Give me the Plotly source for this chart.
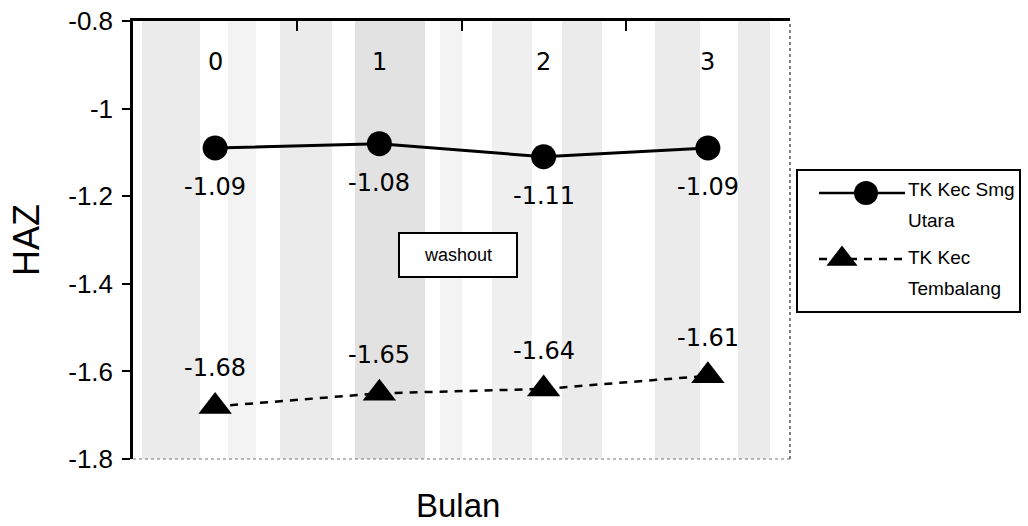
import plotly.graph_objects as go

# ---- data ----
bulan = ["0", "1", "2", "3"]
smg_utara = [-1.09, -1.08, -1.11, -1.09]
tembalang = [-1.68, -1.65, -1.64, -1.61]
y_ticks = [-0.8, -1.0, -1.2, -1.4, -1.6, -1.8]
y_tick_text = ["-0.8", "-1", "-1.2", "-1.4", "-1.6", "-1.8"]
series_names = [["TK Kec Smg", "Utara"], ["TK Kec", "Tembalang"]]

# ---- page geometry (pixels) ----
W, H = 1028, 526
L, T, B = 133, 21, 459          # plot area left / top / bottom
PLOT_R = 790                    # right edge of the data region
AREA_W = W - L
AREA_H = B - T


def px(x):
    return (x - L) / AREA_W


def py(y):
    return (B - y) / AREA_H


label_font = dict(family="DejaVu Sans, Verdana, sans-serif", size=24, color="black")
sans = "Liberation Sans, Arial, sans-serif"

fig = go.Figure()

fig.add_trace(go.Scatter(
    x=bulan, y=smg_utara, mode="lines+markers", name="TK Kec Smg Utara",
    line=dict(color="black", width=3),
    marker=dict(symbol="circle", size=25, color="black"),
    showlegend=False, cliponaxis=False,
))
fig.add_trace(go.Scatter(
    x=bulan, y=tembalang, mode="lines+markers", name="TK Kec Tembalang",
    line=dict(color="black", width=2.5, dash="8px,7px"),
    marker=dict(symbol="triangle-up", size=29, color="black"),
    showlegend=False, cliponaxis=False,
))

annotations = []
# month labels just under the top axis
for b in bulan:
    annotations.append(dict(x=b, y=py(62), xref="x", yref="paper", text=b,
                            showarrow=False, xanchor="center", yanchor="middle",
                            font=dict(family="DejaVu Sans, Verdana, sans-serif",
                                      size=24, color="black")))
# value labels
for b, v in zip(bulan, smg_utara):
    annotations.append(dict(x=b, y=v, xref="x", yref="y", text=f"{v:.2f}",
                            showarrow=False, yshift=-39, font=label_font))
for b, v in zip(bulan, tembalang):
    annotations.append(dict(x=b, y=v, xref="x", yref="y", text=f"{v:.2f}",
                            showarrow=False, yshift=38, font=label_font))

# "washout" box
annotations.append(dict(
    x=px(458), y=py(255), xref="paper", yref="paper", text="washout",
    xanchor="center", yanchor="middle",
    showarrow=False, width=116, height=42, borderpad=0,
    bordercolor="black", borderwidth=2, bgcolor="white",
    font=dict(family=sans, size=18, color="black"),
))

# x axis title
annotations.append(dict(
    x=px(458), y=py(505), xref="paper", yref="paper", text="Bulan",
    xanchor="center", yanchor="middle",
    showarrow=False, font=dict(family=sans, size=33, color="black"),
))

# legend text
leg_lines = [(series_names[0][0], 189), (series_names[0][1], 220),
             (series_names[1][0], 257), (series_names[1][1], 288)]
for txt, yy in leg_lines:
    annotations.append(dict(
        x=px(906), y=py(yy), xref="paper", yref="paper", text=txt,
        showarrow=False, xanchor="left", yanchor="middle",
        font=dict(family=sans, size=19, color="black"),
    ))

shapes = []
# faint vertical shading bands in the plotting region
bands = [(142, 200, "#ebebeb"), (228, 256, "#f3f3f3"), (280, 332, "#ebebeb"),
         (355, 425, "#e2e2e2"), (440, 462, "#f3f3f3"), (492, 532, "#f0f0f0"),
         (562, 602, "#ebebeb"), (655, 700, "#ebebeb"), (738, 770, "#ebebeb")]
for x0, x1, c in bands:
    shapes.append(dict(type="rect", xref="paper", yref="paper",
                       x0=px(x0), x1=px(x1), y0=0, y1=1,
                       fillcolor=c, line=dict(width=0), layer="below"))
# bottom and right edges of the plotting region
shapes.append(dict(type="line", xref="paper", yref="paper", x0=0, x1=px(PLOT_R),
                   y0=0, y1=0, line=dict(color="#777777", width=1, dash="dot")))
shapes.append(dict(type="line", xref="paper", yref="paper", x0=px(PLOT_R), x1=px(PLOT_R),
                   y0=0, y1=1, line=dict(color="#555555", width=1.5, dash="dot")))
# legend frame and line keys
shapes.append(dict(type="rect", xref="paper", yref="paper",
                   x0=px(797), x1=px(1020), y0=py(312), y1=py(170),
                   line=dict(color="black", width=2), fillcolor="white", layer="below"))
shapes.append(dict(type="line", xref="paper", yref="paper",
                   x0=px(819), x1=px(905), y0=py(193), y1=py(193),
                   line=dict(color="black", width=2.5)))
shapes.append(dict(type="line", xref="paper", yref="paper",
                   x0=px(819), x1=px(905), y0=py(259), y1=py(259),
                   line=dict(color="black", width=2.5, dash="8px,7px")))

# legend marker keys on a pixel-scaled helper subplot
fig.add_trace(go.Scatter(x=[866], y=[193], mode="markers", xaxis="x2", yaxis="y2",
                         marker=dict(symbol="circle", size=24, color="black"),
                         showlegend=False, hoverinfo="skip", cliponaxis=False))
fig.add_trace(go.Scatter(x=[842], y=[259], mode="markers", xaxis="x2", yaxis="y2",
                         marker=dict(symbol="triangle-up", size=27, color="black"),
                         showlegend=False, hoverinfo="skip", cliponaxis=False))

fig.update_layout(
    width=W, height=H,
    margin=dict(l=L, r=0, t=T, b=H - B, pad=0),
    paper_bgcolor="white", plot_bgcolor="rgba(0,0,0,0)",
    font=dict(family=sans, color="black"),
    xaxis=dict(
        type="category", domain=[0, px(PLOT_R)], range=[-0.5, 3.5],
        side="top", showline=True, linecolor="black", linewidth=3,
        ticks="inside", tickson="boundaries", ticklen=10, tickwidth=2, tickcolor="black",
        showticklabels=False,
        showgrid=False, zeroline=False, fixedrange=True,
    ),
    yaxis=dict(
        range=[-1.8, -0.8], tickvals=y_ticks, ticktext=y_tick_text,
        showline=True, linecolor="black", linewidth=2.5,
        ticks="outside", ticklen=8, tickwidth=2, tickcolor="black",
        ticklabelstandoff=4,
        tickfont=dict(size=26, color="black"), showgrid=False, zeroline=False,
        title=dict(text="HAZ", font=dict(size=36, color="black"), standoff=18),
    ),
    xaxis2=dict(domain=[0, 1], range=[L, W], anchor="y2", visible=False, fixedrange=True),
    yaxis2=dict(domain=[0, 1], range=[B, T], anchor="x2", visible=False, fixedrange=True),
    annotations=annotations,
    shapes=shapes,
    showlegend=False,
)

fig.write_html("out.html")
